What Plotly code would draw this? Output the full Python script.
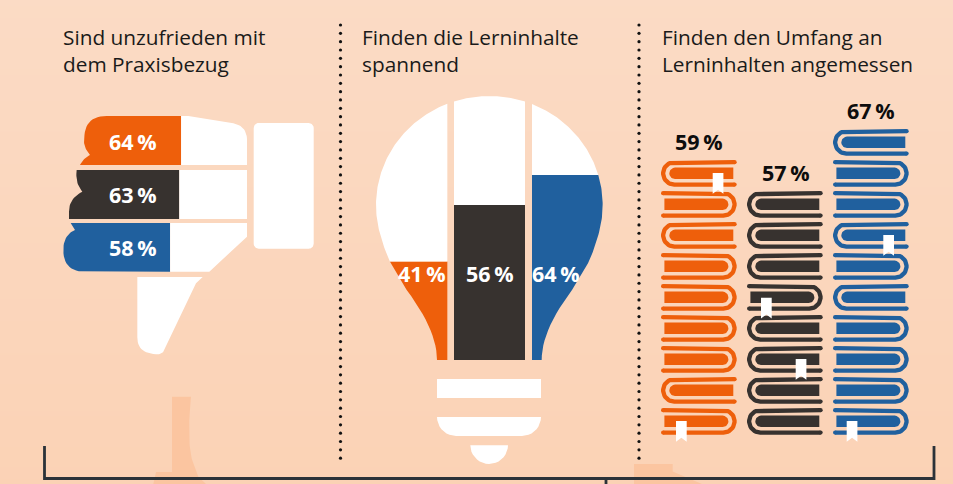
import numpy as np
import plotly.graph_objects as go

# ---------- data ----------
titles = [["Sind unzufrieden mit", "dem Praxisbezug"],
          ["Finden die Lerninhalte", "spannend"],
          ["Finden den Umfang an", "Lerninhalten angemessen"]]
thumb_values = [64, 63, 58]
bulb_values = [41, 56, 64]
book_values = [59, 57, 67]
book_spines = ["LRLRRRRLR", "LLLRLLLL", "LRRLRLRRRR"]
colors = ["#EE5F0B", "#37322F", "#20609E"]

WHITE = "#FFFFFF"
INK = "#2B3239"
FONT = "Open Sans"
traces = []


def bez(p0, c, p1, n=14):
    t = np.linspace(0, 1, n)[1:, None]
    p0, c, p1 = map(np.array, (p0, c, p1))
    return ((1 - t) ** 2 * p0 + 2 * t * (1 - t) * c + t ** 2 * p1).tolist()


def build(items, ox, oy):
    """Items: (x, y) or (cx, cy, x, y) for a quadratic curve, in 3x crop units."""
    pts = []
    for it in items:
        if len(it) == 2:
            pts.append(list(it))
        else:
            pts += bez(pts[-1], it[:2], it[2:])
    return [(ox + x / 3, oy + y / 3) for x, y in pts]


def poly(polys, color, name=""):
    xs, ys = [], []
    for p in polys:
        xs += [a for a, _ in p] + [p[0][0], None]
        ys += [b for _, b in p] + [p[0][1], None]
    traces.append(go.Scatter(x=xs, y=ys, mode="lines", fill="toself", fillcolor=color,
                             line=dict(width=0, color=color), hoverinfo="skip", name=name))


def rrect(x0, y0, x1, y1, rtl=0, rbl=0, rtr=0, rbr=0):
    out = []
    def arc(cx, cy, r, a0, a1):
        if r == 0:
            out.append((cx, cy))
            return
        for a in np.linspace(a0, a1, 10):
            out.append((cx + r * np.cos(a), cy + r * np.sin(a)))
    arc(x0 + rtl, y0 + rtl, rtl, np.pi, 1.5 * np.pi)
    arc(x1 - rtr, y0 + rtr, rtr, 1.5 * np.pi, 2 * np.pi)
    arc(x1 - rbr, y1 - rbr, rbr, 0, .5 * np.pi)
    arc(x0 + rbl, y1 - rbl, rbl, .5 * np.pi, np.pi)
    return out


def clip_y(p, level, keep_below):
    res = []
    inside = (lambda q: q[1] >= level) if keep_below else (lambda q: q[1] <= level)
    for i in range(len(p)):
        a, b = p[i], p[(i + 1) % len(p)]
        if inside(a):
            res.append(a)
        if inside(a) != inside(b):
            t = (level - a[1]) / (b[1] - a[1])
            res.append((a[0] + t * (b[0] - a[0]), level))
    return res


def clip_x(p, level, keep_right):
    flipped = [(y, x) for x, y in p]
    return [(y, x) for x, y in clip_y(flipped, level, keep_right)]


# ---------- background ----------
traces.append(go.Heatmap(x=[-10, 963], y=[-10, 494], z=[[0, 0], [1, 1]], zsmooth="best", showscale=False,
                         colorscale=[[0, "#FBDBC5"], [1, "#FBD2B5"]], hoverinfo="skip"))
deco1 = build([(516, 50), (573, 50), (566, 110, 568, 180), (570, 225, 580, 250), (595, 290), (618, 312),
               (460, 312), (468, 276), (516, 276)], 0, 380)
deco2 = [(634, 464), (672.7, 464), (672.7, 471.5), (685, 477), (702, 484), (634, 484)]
poly([deco1, deco2], "#FBC5A0")

# ---------- dotted separators ----------
dot_x, dot_y = [], []
for sx in (340.5, 639):
    for d in np.arange(25, 461, 8.33):
        dot_x.append(sx)
        dot_y.append(float(d))
traces.append(go.Scatter(x=dot_x, y=dot_y, mode="markers", hoverinfo="skip",
                         marker=dict(size=3.2, color="#111111", line=dict(width=0))))

# ---------- bracket ----------
traces.append(go.Scatter(x=[44.5, 44.5, 934, 934, None, 606, 606], y=[446, 478.5, 478.5, 446, None, 478.5, 486],
                         mode="lines", line=dict(color=INK, width=2.8), hoverinfo="skip"))

# ---------- thumb ----------
THUMB_0, THUMB_W = 64.0, 183.0
thumb_left = [
    [(170, 195), (90, 195), (100, 175, 120, 165), (98, 140, 103, 115), (103, 48, 170, 48)],
    [(80, 357), (57, 357), (57, 335), (57, 295, 97, 275), (75, 250, 80, 210)],
    [(105, 515), (40, 515, 40, 450), (40, 405, 75, 390), (62, 369)],
]
thumb_right = [
    [(415, 48), (550, 70), (591, 78, 591, 120), (591, 195)],
    [(591, 210), (591, 357)],
    [(591, 369), (591, 410), (478, 515)],
]
thumb_rows = [(116, 165), (170, 219), (223, 271.7)]
whites = []
for i, v in enumerate(thumb_values):
    fx = THUMB_0 + THUMB_W * v / 100
    top, bot = thumb_rows[i]
    left = build(thumb_left[i], 50, 100)
    right = build(thumb_right[i], 50, 100)
    whites.append([(fx, top)] + right + [(fx, bot)])
    poly([[(fx, bot)] + left + [(fx, top)]], colors[i], f"Praxisbezug {v}")
whites.append(build([(262, 531), (458, 531), (438, 550), (345, 748), (338, 764, 318, 763),
                     (262, 760, 262, 712)], 50, 100))
whites.append(rrect(253.7, 123, 313.7, 248.7, 5, 5, 5, 5))

# ---------- bulb ----------
CX, CY, RX, RY = 388, 360, 340, 327
angles = np.linspace(np.pi * 0.92, np.pi * 2.08, 240)
ell = [(CX + RX * np.cos(a), CY + RY * np.sin(a)) for a in angles]
left_neck = [(x * 3, y * 3) for x, y in build([ell[0], (72, 492, 92, 535), (140, 615), (231, 735, 231, 825)], 0, 0)]
bulb = left_neck[::-1][:-1] + ell + [(2 * CX - x, y) for x, y in left_neck[1:]]
bulb = [(360 + x / 3, 85 + y / 3) for x, y in bulb]
columns = [(360 + a / 3, 360 + b / 3) for a, b in ((0, 262), (282, 495), (516, 780))]
BULB_BOTTOM = 85 + 825 / 3
bulb_scale = [2.40, 2.77, 2.89]
for i, v in enumerate(bulb_values):
    x0, x1 = columns[i]
    col = clip_x(clip_x(bulb, x0, True), x1, False)
    lvl = BULB_BOTTOM - bulb_scale[i] * v
    whites.append(clip_y(col, lvl, False))
    poly([clip_y(col, lvl, True)], colors[i], f"Lerninhalte {v}")
whites.append(rrect(437, 379, 541, 398))
whites.append(rrect(437, 417, 541, 436, 0, 19, 0, 19))
whites.append(rrect(470.3, 445.3, 508, 464, 0, 18.8, 0, 18.8))

# ---------- books ----------
stack_x = [661, 747, 833]
BOOK_W, PITCH, BOTTOM_TOP = 75.7, 31.0, 408.0
SW, R = 4.3, 11.18
marks = [(712.7, 173), (676, 421), (761, 297.7), (795.7, 359), (883.3, 235), (846.7, 421)]
book_tops = []
for s, spine in enumerate(book_spines):
    lx, ly, ex, ey, pages = [], [], [], [], []
    n = len(spine)
    x0 = stack_x[s]
    for k, side in enumerate(spine):
        T = BOTTOM_TOP - PITCH * (n - 1 - k)
        m = (lambda x: x) if side == "L" else (lambda x: 2 * x0 + BOOK_W - x)
        cy = T + 13.35
        a = np.linspace(-np.pi / 2, -1.5 * np.pi, 24)
        xs = [m(x0 + BOOK_W - SW / 2)] + [m(x0 + SW / 2 + R + R * np.cos(t)) for t in a] + [m(x0 + BOOK_W - SW / 2)]
        ys = [cy - R] + [cy + R * np.sin(t) for t in a] + [cy + R]
        lx += xs + [None]
        ly += ys + [None]
        ex += [xs[0], xs[-1]]
        ey += [ys[0], ys[-1]]
        pg = rrect(x0 + 8.3, T + 7.6, x0 + 72.3, T + 19, 5.7, 5.7, 0, 0)
        pages.append([(m(x), y) for x, y in pg])
    book_tops.append(BOTTOM_TOP - PITCH * (n - 1))
    poly(pages, colors[s], f"Umfang {book_values[s]}")
    traces.append(go.Scatter(x=lx, y=ly, mode="lines", line=dict(color=colors[s], width=SW), hoverinfo="skip"))
    traces.append(go.Scatter(x=ex, y=ey, mode="markers", hoverinfo="skip",
                             marker=dict(size=SW, color=colors[s], line=dict(width=0))))

poly(whites, WHITE)
bm = [[(x, y), (x + 10.7, y), (x + 10.7, y + 20.7), (x + 5.35, y + 16.7), (x, y + 20.7)] for x, y in marks]
poly(bm, WHITE)

# ---------- text ----------
ann = []
def label(x, y, text, color, size=21.5, bold=True, anchor="center"):
    ann.append(dict(x=x, y=y, text=f"<b>{text}</b>" if bold else text, showarrow=False, xanchor=anchor,
                    yanchor="middle", align="left", xref="x", yref="y",
                    font=dict(family=FONT, size=size, color=color)))

for (x, lines) in zip((60.5, 360, 659.5), titles):
    label(x, 50.5, "<br>".join(lines), "#1A1A1A", size=20.8, bold=False, anchor="left")
for v, y in zip(thumb_values, (141.5, 194.5, 247.5)):
    label(132.5, y, f"{v}\u2009%", WHITE)
for v, x in zip(bulb_values, (421.5, 489.5, 555.5)):
    label(x, 273.5, f"{v}\u2009%", WHITE)
for v, x, t in zip(book_values, (699, 785.5, 871), book_tops):
    label(x, t - 18.5, f"{v}\u2009%", "#0D0D0D")

fig = go.Figure(traces)
fig.update_layout(width=953, height=484, margin=dict(l=0, r=0, t=0, b=0), showlegend=False,
                  paper_bgcolor="#FBD6BD", plot_bgcolor="rgba(0,0,0,0)", annotations=ann,
                  xaxis=dict(range=[0, 953], visible=False, fixedrange=True),
                  yaxis=dict(range=[484, 0], visible=False, fixedrange=True))
fig.write_html("out.html", config=dict(displayModeBar=False),
               post_script="document.body.style.margin='0';document.body.style.overflow='hidden';")
